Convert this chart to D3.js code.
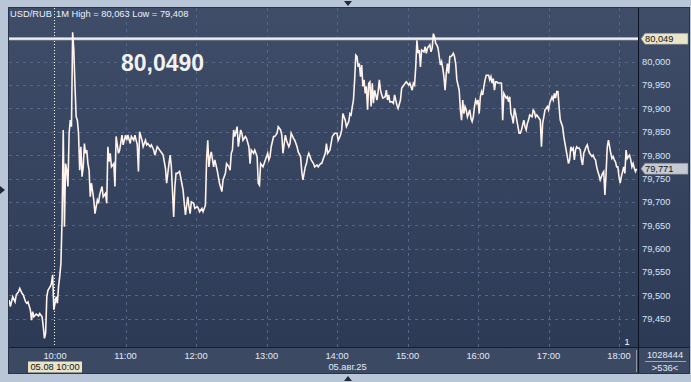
<!DOCTYPE html>
<html><head><meta charset="utf-8">
<script src="https://cdn.jsdelivr.net/npm/d3@7"></script>
<style>html,body{margin:0;padding:0;background:#b9c6d7;} svg{display:block;font-family:"Liberation Sans",Arial,sans-serif;}</style>
</head><body><svg id="c" width="691" height="382"></svg>
<script>
const times = ["09:21","09:22","09:24","09:26","09:27","09:29","09:30","09:32","09:33","09:35","09:36","09:37","09:39","09:40","09:41","09:42","09:44","09:46","09:47","09:49","09:50","09:51","09:52","09:53","09:54","09:56","09:57","09:58","09:59","10:01","10:02","10:03","10:04","10:05","10:06","10:07","10:08","10:09","10:10","10:11","10:12","10:13","10:14","10:15","10:16","10:17","10:18","10:19","10:20","10:21","10:22","10:23","10:24","10:25","10:26","10:27","10:28","10:29","10:30","10:31","10:33","10:34","10:36","10:37","10:38","10:40","10:41","10:43","10:44","10:45","10:46","10:47","10:48","10:50","10:51","10:52","10:54","10:55","10:57","10:58","11:00","11:01","11:02","11:04","11:05","11:07","11:08","11:10","11:11","11:12","11:14","11:15","11:17","11:18","11:19","11:21","11:22","11:24","11:25","11:27","11:28","11:29","11:31","11:32","11:34","11:35","11:37","11:38","11:39","11:41","11:42","11:43","11:44","11:46","11:49","11:50","11:51","11:53","11:54","11:55","11:56","11:58","11:59","12:01","12:02","12:03","12:05","12:06","12:08","12:09","12:10","12:11","12:12","12:13","12:15","12:16","12:18","12:19","12:20","12:22","12:23","12:25","12:26","12:28","12:29","12:30","12:31","12:32","12:33","12:35","12:36","12:38","12:39","12:40","12:42","12:43","12:45","12:46","12:47","12:49","12:50","12:52","12:53","12:54","12:55","12:57","12:58","13:00","13:01","13:02","13:03","13:04","13:06","13:07","13:09","13:10","13:12","13:13","13:14","13:16","13:17","13:19","13:20","13:21","13:23","13:24","13:26","13:27","13:29","13:30","13:31","13:32","13:33","13:34","13:35","13:36","13:37","13:38","13:40","13:41","13:43","13:44","13:46","13:47","13:48","13:50","13:51","13:52","13:54","13:55","13:56","13:58","14:00","14:01","14:03","14:04","14:05","14:07","14:08","14:10","14:11","14:12","14:13","14:14","14:15","14:16","14:17","14:18","14:19","14:20","14:21","14:22","14:23","14:24","14:25","14:26","14:27","14:28","14:29","14:30","14:31","14:32","14:34","14:35","14:36","14:37","14:38","14:39","14:41","14:42","14:43","14:44","14:45","14:47","14:48","14:49","14:51","14:52","14:54","14:55","14:56","14:57","14:58","14:59","15:01","15:02","15:04","15:05","15:06","15:07","15:08","15:09","15:10","15:11","15:12","15:14","15:15","15:16","15:17","15:19","15:20","15:21","15:22","15:23","15:24","15:25","15:26","15:27","15:28","15:29","15:30","15:31","15:32","15:33","15:34","15:35","15:36","15:37","15:38","15:39","15:40","15:41","15:42","15:43","15:44","15:45","15:46","15:47","15:48","15:49","15:50","15:51","15:52","15:53","15:54","15:55","15:56","15:57","15:58","15:59","16:00","16:01","16:02","16:03","16:04","16:05","16:06","16:07","16:09","16:10","16:11","16:12","16:13","16:14","16:15","16:16","16:17","16:19","16:20","16:21","16:22","16:24","16:25","16:26","16:27","16:28","16:29","16:30","16:31","16:32","16:33","16:34","16:35","16:36","16:37","16:39","16:40","16:41","16:42","16:43","16:44","16:46","16:47","16:48","16:49","16:50","16:52","16:53","16:54","16:55","16:56","16:57","16:58","16:59","17:00","17:01","17:03","17:04","17:05","17:06","17:07","17:08","17:09","17:10","17:11","17:12","17:13","17:14","17:15","17:16","17:17","17:18","17:19","17:20","17:21","17:22","17:23","17:24","17:25","17:26","17:27","17:28","17:29","17:30","17:31","17:32","17:33","17:34","17:35","17:37","17:38","17:39","17:40","17:41","17:42","17:43","17:44","17:45","17:46","17:47","17:48","17:49","17:50","17:51","17:52","17:53","17:54","17:55","17:56","17:57","17:58","17:59","18:00","18:01","18:02","18:04","18:05","18:06","18:07","18:08","18:09","18:10","18:11","18:12","18:13","18:14","18:15"];
const prices = [79.490,79.476,79.497,79.486,79.501,79.508,79.515,79.504,79.501,79.486,79.483,79.486,79.469,79.447,79.465,79.454,79.460,79.456,79.461,79.454,79.433,79.408,79.419,79.497,79.511,79.519,79.526,79.544,79.469,79.497,79.483,79.519,79.540,79.568,79.661,79.854,79.647,79.782,79.768,79.733,79.847,79.875,79.861,80.063,80.025,79.947,79.882,79.875,79.847,79.768,79.818,79.754,79.775,79.825,79.804,79.811,79.782,79.768,79.711,79.740,79.704,79.675,79.704,79.697,79.715,79.733,79.711,79.718,79.697,79.818,79.786,79.804,79.775,79.782,79.733,79.840,79.804,79.811,79.843,79.822,79.843,79.832,79.843,79.825,79.840,79.832,79.843,79.822,79.765,79.850,79.832,79.818,79.832,79.822,79.825,79.818,79.822,79.811,79.800,79.818,79.815,79.811,79.804,79.800,79.772,79.740,79.782,79.800,79.775,79.668,79.733,79.761,79.761,79.765,79.725,79.697,79.672,79.711,79.690,79.675,79.700,79.697,79.686,79.690,79.686,79.679,79.686,79.679,79.693,79.790,79.832,79.775,79.797,79.807,79.775,79.790,79.768,79.754,79.740,79.722,79.747,79.761,79.782,79.775,79.768,79.804,79.811,79.854,79.840,79.861,79.818,79.854,79.847,79.832,79.840,79.836,79.818,79.782,79.811,79.804,79.811,79.797,79.740,79.736,79.782,79.775,79.782,79.797,79.804,79.790,79.797,79.818,79.840,79.840,79.847,79.861,79.854,79.843,79.804,79.843,79.832,79.818,79.825,79.847,79.836,79.832,79.818,79.807,79.797,79.765,79.747,79.761,79.775,79.782,79.797,79.804,79.797,79.790,79.782,79.775,79.779,79.775,79.782,79.782,79.790,79.804,79.825,79.804,79.811,79.825,79.840,79.847,79.847,79.832,79.843,79.854,79.889,79.875,79.861,79.872,79.889,79.886,79.904,79.918,79.961,80.014,80.011,79.989,79.996,79.968,79.993,79.947,79.961,79.932,79.947,79.897,79.954,79.957,79.904,79.954,79.911,79.939,79.918,79.936,79.961,79.939,79.929,79.922,79.925,79.939,79.918,79.929,79.914,79.914,79.911,79.929,79.907,79.900,79.918,79.943,79.947,79.950,79.954,79.957,79.950,79.954,79.939,79.954,79.950,79.989,80.046,80.018,80.025,79.989,80.025,80.021,80.032,80.018,80.029,80.036,80.021,80.029,80.060,80.053,80.039,80.036,80.029,80.011,79.993,80.000,79.986,79.968,79.939,79.975,79.996,79.975,80.011,80.011,80.014,80.018,80.011,79.996,79.961,79.950,79.939,79.897,79.875,79.918,79.889,79.904,79.897,79.882,79.889,79.897,79.879,79.872,79.882,79.904,79.918,79.911,79.918,79.889,79.925,79.936,79.929,79.947,79.961,79.971,79.971,79.961,79.968,79.954,79.964,79.939,79.957,79.957,79.954,79.955,79.954,79.875,79.932,79.922,79.925,79.914,79.925,79.889,79.882,79.868,79.900,79.889,79.875,79.861,79.847,79.847,79.854,79.875,79.861,79.854,79.868,79.875,79.886,79.882,79.897,79.893,79.882,79.886,79.879,79.875,79.818,79.868,79.882,79.897,79.900,79.904,79.897,79.911,79.925,79.918,79.932,79.922,79.936,79.936,79.904,79.875,79.868,79.861,79.840,79.825,79.811,79.797,79.782,79.790,79.818,79.811,79.815,79.790,79.811,79.818,79.815,79.815,79.811,79.790,79.779,79.804,79.811,79.818,79.822,79.811,79.804,79.797,79.800,79.793,79.790,79.775,79.765,79.757,79.747,79.754,79.761,79.765,79.715,79.761,79.818,79.832,79.818,79.804,79.793,79.797,79.790,79.786,79.775,79.775,79.754,79.740,79.754,79.775,79.761,79.811,79.793,79.797,79.800,79.790,79.775,79.782,79.772,79.765,79.771];
const priceTicks = [79.45,79.50,79.55,79.60,79.65,79.70,79.75,79.80,79.85,79.90,79.95,80.00];
const hourTicks = ["10:00","11:00","12:00","13:00","14:00","15:00","16:00","17:00","18:00"];
const timeDomain = ["09:20:50","18:16:10"];
const priceDomain = [79.3895, 80.1149];
const symbol = "USD/RUB";
const headerText = "1M High = 80,063 Low = 79,408";
const bigValue = "80,0490";
const refLevel = 80.049;
const lastPrice = 79.771;
const cursorTime = "10:00";
const dateLabel = "05.08 10:00";
const dayLabel = "05.авг.25";
const volumeLabel = "1028444";
const barsLabel = ">536<";
const paneLabel = "1";

const W = 691, H = 382;
const L = 9, R = 638, T = 8, B = 347, PR = 689, SB = 373;
const svg = d3.select("#c");
const pHM = d3.timeParse("%H:%M"), pHMS = d3.timeParse("%H:%M:%S");
const fmt = v => d3.format(".3f")(v).replace(".", ",");

const x = d3.scaleTime().domain(timeDomain.map(pHMS)).range([L, R]);
const y = d3.scaleLinear().domain(priceDomain).range([B, T]);

const defs = svg.append("defs");
const g = defs.append("linearGradient").attr("id","bg").attr("x1",0).attr("y1",0).attr("x2",0).attr("y2",1);
g.append("stop").attr("offset","0%").attr("stop-color","#3f4d69");
g.append("stop").attr("offset","100%").attr("stop-color","#2c3a56");
defs.append("clipPath").attr("id","clip").append("rect").attr("x",L).attr("y",T).attr("width",R-L).attr("height",B-T);

svg.append("rect").attr("width",W).attr("height",H).attr("fill","#b9c6d7");
svg.append("rect").attr("x",L).attr("y",T).attr("width",PR-L).attr("height",B-T).attr("fill","url(#bg)");
svg.append("rect").attr("x",L).attr("y",B).attr("width",PR-L).attr("height",SB-B).attr("fill","#3c4963");
svg.append("rect").attr("x",L-0.5).attr("y",T-0.5).attr("width",PR-L+1).attr("height",SB-T+1).attr("fill","none").attr("stroke","#2a3448");

// horizontal grid
svg.append("g").selectAll("line").data(priceTicks).join("line")
  .attr("x1",L).attr("x2",R).attr("y1",d=>Math.round(y(d))+0.5).attr("y2",d=>Math.round(y(d))+0.5)
  .attr("stroke","#56658a").attr("stroke-dasharray","3,4").attr("stroke-width",1);
// vertical grid
svg.append("g").selectAll("line").data(hourTicks.filter(h=>h!==cursorTime)).join("line")
  .attr("x1",d=>Math.round(x(pHM(d)))+0.5).attr("x2",d=>Math.round(x(pHM(d)))+0.5)
  .attr("y1",T).attr("y2",B).attr("stroke","#56658a").attr("stroke-dasharray","3,4");

// reference level line
const yr = y(refLevel);
svg.append("line").attr("x1",L).attr("x2",R).attr("y1",yr).attr("y2",yr).attr("stroke","#c9c9c9").attr("stroke-width",3);
svg.append("line").attr("x1",L).attr("x2",R).attr("y1",yr).attr("y2",yr).attr("stroke","#ffffff").attr("stroke-width",1);

// price line
const data = times.map((t,i)=>({t:pHM(t), v:prices[i]}));
svg.append("path").datum(data).attr("clip-path","url(#clip)")
  .attr("d", d3.line().x(d=>x(d.t)).y(d=>y(d.v)))
  .attr("fill","none").attr("stroke","#fff3ec").attr("stroke-width",1.6).attr("stroke-linejoin","miter");

// cursor line
const xc = Math.round(x(pHM(cursorTime)))-0.5;
svg.append("line").attr("x1",xc).attr("x2",xc).attr("y1",T).attr("y2",B)
  .attr("stroke","#ffffff").attr("stroke-dasharray","1,2");

// axis separators
svg.append("line").attr("x1",L).attr("x2",PR).attr("y1",B+0.5).attr("y2",B+0.5).attr("stroke","#161e2e");
svg.append("line").attr("x1",R+0.5).attr("x2",R+0.5).attr("y1",T).attr("y2",SB).attr("stroke","#0c1220");
svg.append("line").attr("x1",636.5).attr("x2",636.5).attr("y1",350).attr("y2",372).attr("stroke","#8a95aa");

// right axis labels
svg.append("g").selectAll("text").data(priceTicks).join("text")
  .attr("x",642).attr("y",d=>y(d)).attr("dy","0.36em")
  .attr("font-size","9.3px").attr("fill","#d6e3f8").text(fmt);

// tags
function tag(v, fill){
  const cy = y(v);
  svg.append("path").attr("d",`M641,${cy} L645,${cy-5.5} L688,${cy-5.5} L688,${cy+5.5} L645,${cy+5.5} Z`)
    .attr("fill",fill).attr("stroke","#7d7f78").attr("stroke-width",0.5);
  svg.append("text").attr("x",645).attr("y",cy).attr("dy","0.36em").attr("font-size","9.3px").attr("fill","#141414").text(fmt(v));
}
tag(refLevel, "#e9e5c8");
tag(lastPrice, "#c6cad3");

// header
svg.append("text").attr("x",10).attr("y",17).attr("font-size","9.3px").attr("fill","#eef2f8").text(symbol);
svg.append("text").attr("x",56).attr("y",17).attr("font-size","9.3px").attr("fill","#eef2f8").text(headerText);
svg.append("text").attr("x",121).attr("y",71).attr("font-size","23px").attr("font-weight","bold").attr("fill","#f2f2f2").text(bigValue);
svg.append("text").attr("x",627).attr("y",345).attr("text-anchor","middle").attr("font-size","9px").attr("fill","#ffffff").text(paneLabel);

// bottom axis
svg.append("g").selectAll("text").data(hourTicks).join("text")
  .attr("x",d=>x(pHM(d))).attr("y",355.5).attr("dy","0.36em").attr("text-anchor","middle")
  .attr("font-size","9.3px").attr("fill","#e2eaf8").text(d=>d);
const xcd = x(pHM(cursorTime));
svg.append("rect").attr("x",xcd-27).attr("y",361.5).attr("width",54).attr("height",11).attr("fill","#e9e5c8");
svg.append("text").attr("x",xcd).attr("y",367).attr("dy","0.36em").attr("text-anchor","middle").attr("font-size","9.3px").attr("fill","#141414").text(dateLabel);
svg.append("text").attr("x",347.5).attr("y",367).attr("dy","0.36em").attr("text-anchor","middle").attr("font-size","9.3px").attr("fill","#e2eaf8").text(dayLabel);
svg.append("text").attr("x",665).attr("y",355).attr("dy","0.36em").attr("text-anchor","middle").attr("font-size","9.3px").attr("fill","#e2eaf8").text(volumeLabel);
svg.append("line").attr("x1",645).attr("x2",686).attr("y1",361.5).attr("y2",361.5).attr("stroke","#9aa6bc");
svg.append("text").attr("x",665).attr("y",368).attr("dy","0.36em").attr("text-anchor","middle").attr("font-size","9.3px").attr("fill","#e2eaf8").text(barsLabel);

// frame markers
svg.append("path").attr("d","M344,1 L352,1 L348,6 Z").attr("fill","#1f2939");
svg.append("path").attr("d","M344,381 L352,381 L348,376 Z").attr("fill","#1f2939");
svg.append("path").attr("d","M0,186 L0,194 L5,190 Z").attr("fill","#1f2939");
</script></body></html>
